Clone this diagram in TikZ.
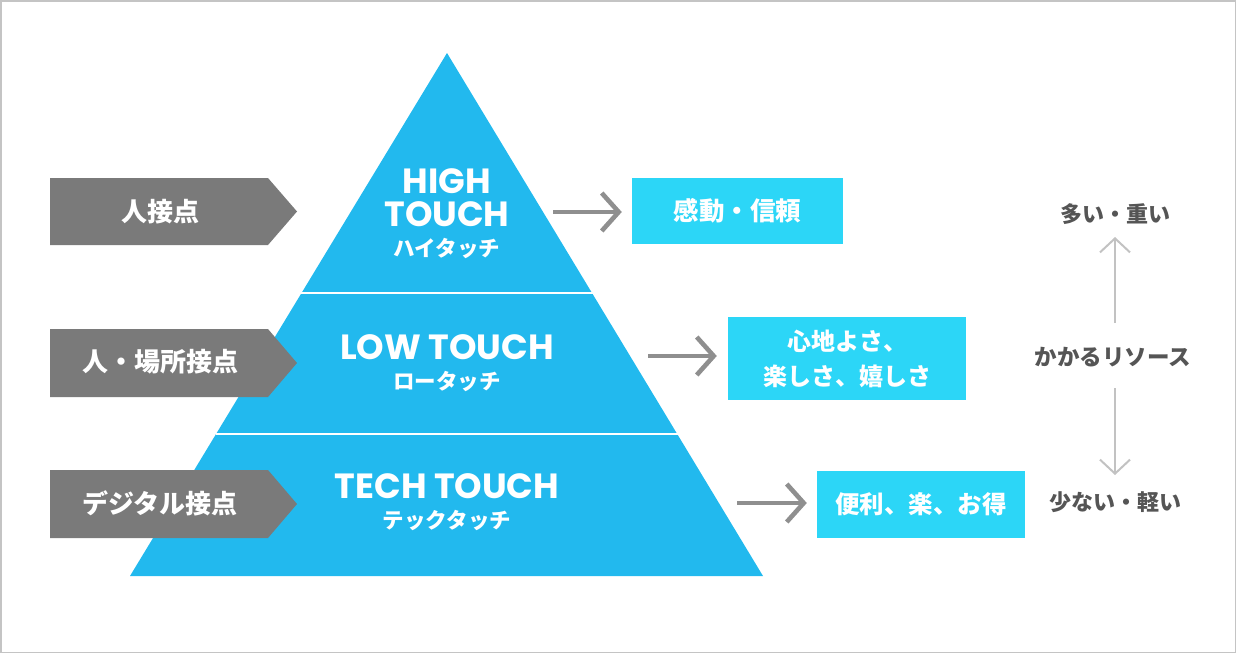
\documentclass[tikz,border=0pt]{standalone}
\usepackage{fontspec}
\newfontfamily\jp{Noto Sans CJK JP}
\newfontfamily\en{Poppins}
\usetikzlibrary{arrows.meta}
\definecolor{pyr}{HTML}{22B9EE}
\definecolor{boxc}{HTML}{2CD6F7}
\definecolor{pent}{HTML}{7A7A7A}
\definecolor{arrc}{HTML}{8F8F8F}
\definecolor{rarr}{HTML}{C2C2C2}
\definecolor{rtxt}{HTML}{555555}
\definecolor{frame}{HTML}{C4C4C4}
\tikzset{
  pentbox/.style={fill=pent},
  penttext/.style={text=white,font=\jp\bfseries\fontsize{26}{30}\selectfont,inner sep=0pt},
  title/.style={text=white,font=\en\bfseries\fontsize{35}{33}\selectfont,inner sep=0pt,text height=25pt,text depth=0pt},
  kana/.style={text=white,font=\jp\bfseries\fontsize{21.5}{24}\selectfont,inner sep=0pt,text height=17pt,text depth=2pt},
  result/.style={fill=boxc,text=white,font=\jp\bfseries\fontsize{25.5}{35}\selectfont,align=center,inner sep=0pt},
  bigarrow/.style={draw=arrc,line width=4.6pt,-{Straight Barb[length=17pt,width=38pt,line width=4.6pt]}},
  resarrow/.style={draw=rarr,line width=2pt,-{Straight Barb[length=14pt,width=30pt,line width=2pt]}},
  restext/.style={text=rtxt,font=\jp\bfseries\fontsize{22}{26}\selectfont,inner sep=0pt},
}
\begin{document}
\begin{tikzpicture}[x=1pt,y=-1pt]
\useasboundingbox (0,0) rectangle (1236,653);
\draw[frame,line width=1.5pt] (0.75,0.75) rectangle (1235.25,652.25);
% pyramid
\coordinate (apex) at (447,53);
\coordinate (bl) at (130,576);
\coordinate (br) at (763,576);
\fill[pyr] (apex) -- (br) -- (bl) -- cycle;
\draw[white,line width=2pt] (300.5,293) -- (593.5,293);
\draw[white,line width=2pt] (215.5,434) -- (678.5,434);
% titles
\node[title] (t1a) at (447,181) {HIGH};
\node[title] (t1b) at (447,214) {TOUCH};
\node[kana] (k1) at (447,248.5) {ハイタッチ};
\node[title] (t2) at (447,347) {LOW TOUCH};
\node[kana] (k2) at (447,382) {ロータッチ};
\node[title] (t3) at (447,485.5) {TECH TOUCH};
\node[kana] (k3) at (447,520.5) {テックタッチ};
% pentagons
\fill[pentbox] (50,178) -- (268,178) -- (297,211.5) -- (268,245) -- (50,245) -- cycle;
\fill[pentbox] (50,329) -- (268,329) -- (297,363) -- (268,397) -- (50,397) -- cycle;
\fill[pentbox] (50,470) -- (268,470) -- (297,504) -- (268,538) -- (50,538) -- cycle;
\node[penttext] (p1) at (160,212) {人接点};
\node[penttext] (p2) at (160,362) {人・場所接点};
\node[penttext] (p3) at (160,503) {デジタル接点};
% result boxes
\node[result,minimum width=211pt,minimum height=66pt] (b1) at (737.5,211) {感動・信頼};
\node[result,minimum width=238pt,minimum height=83pt,font=\jp\bfseries\fontsize{24}{35}\selectfont] (b2) at (847,358.5) {心地よさ、\\楽しさ、嬉しさ};
\node[result,minimum width=208pt,minimum height=67pt,font=\jp\bfseries\fontsize{24.5}{35}\selectfont] (b3) at (921,504.5) {便利、楽、お得};
% arrows
\coordinate (s1) at (553,212);
\coordinate (s2) at (648,356);
\coordinate (s3) at (737,503);
\draw[bigarrow] (s1) -- ([xshift=-10pt]b1.west |- s1);
\draw[bigarrow] (s2) -- ([xshift=-11pt]b2.west |- s2);
\draw[bigarrow] (s3) -- ([xshift=-10pt]b3.west |- s3);
% resources
\node[restext] (r1) at (1115,214) {多い・重い};
\node[restext,font=\jp\bfseries\fontsize{22.5}{26}\selectfont] (r2) at (1113,357) {かかるリソース};
\node[restext] (r3) at (1115,502) {少ない・軽い};
\coordinate (u1) at (1115,323);
\coordinate (u2) at (1115,237);
\coordinate (d1) at (1115,388);
\coordinate (d2) at (1115,475);
\draw[resarrow] (u1) -- (u2);
\draw[resarrow] (d1) -- (d2);
\end{tikzpicture}
\end{document}
